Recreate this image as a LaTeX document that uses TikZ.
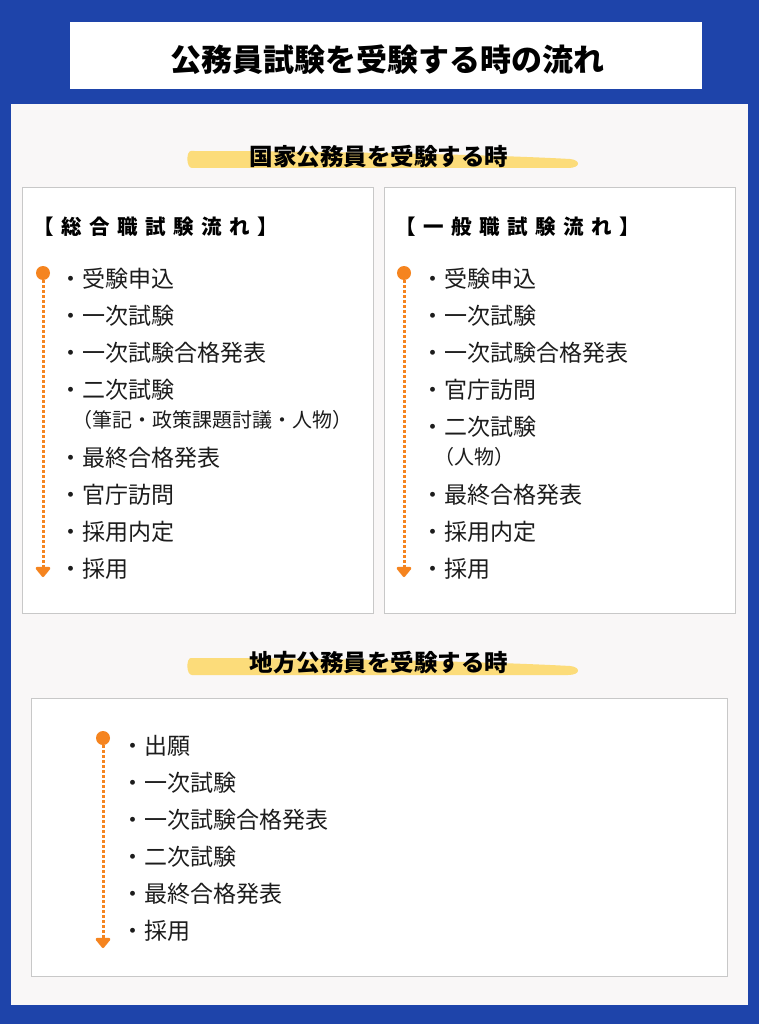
\documentclass[tikz,border=0pt]{standalone}
\usepackage{fontspec}
\setmainfont{Noto Sans CJK JP}
\usetikzlibrary{positioning,arrows.meta}

\definecolor{bgblue}{RGB}{30,68,170}
\definecolor{panelgray}{RGB}{249,247,247}
\definecolor{boxline}{RGB}{200,200,200}
\definecolor{flowOrange}{RGB}{245,132,31}
\definecolor{brushYellow}{RGB}{252,220,122}
\definecolor{itemtext}{RGB}{28,28,28}

\begin{document}
\begin{tikzpicture}[x=1pt,y=-1pt,node distance=15pt,
  title node/.style={font=\fontsize{31}{36}\selectfont\bfseries},
  heading node/.style={font=\fontsize{23.5}{28}\selectfont\bfseries},
  head node/.style={anchor=west,inner sep=0pt,text height=17.5pt,text depth=1.5pt,
    font=\fontsize{20.5}{24}\selectfont\bfseries\addfontfeature{LetterSpace=37}},
  item node/.style={text width=300pt,align=left,inner sep=0pt,text height=19.5pt,text depth=2pt,
    font=\fontsize{23}{27}\selectfont,text=itemtext},
  sub node/.style={item node,text height=17.5pt,text depth=1.5pt,
    font=\fontsize{20}{24}\selectfont,execute at begin node=\hspace*{13pt}},
  flow box/.style={draw=boxline,fill=white,line width=1pt},
  start dot/.style={circle,fill=flowOrange,minimum size=14pt,inner sep=0pt},
  flow line/.style={draw=flowOrange,line width=3pt,dash pattern=on 3pt off 2pt,
    -{Triangle[width=17pt,length=11pt,round]}},
  brush/.style={fill=brushYellow}]
  \useasboundingbox (0,0) rectangle (759,1024);
  \fill[bgblue] (0,0) rectangle (759,1024);
  \fill[white] (70,22) rectangle (702,89);
  \fill[panelgray] (11,104) rectangle (748,1005);
  \node[title node] (title) at (387,60) {公務員試験を受験する時の流れ};

  % 国家公務員
  \fill[brush] (191,151) .. controls (300,151) and (480,154) .. (570,159)
    .. controls (581,160) and (581,168) .. (568,168) -- (192,168)
    .. controls (186,168) and (186,151) .. (191,151) -- cycle;
  \node[heading node] (kokka) at (379,157) {国家公務員を受験する時};
  \draw[flow box] (22,188) rectangle (373,613);
  \draw[flow box] (384,188) rectangle (735,613);

  \node[head node] (shead) at (33,227) {【総合職試験流れ】};
  \node[item node,anchor=west] (s1) at (59,279) {・受験申込};
  \node[item node,below=of s1] (s2) {・一次試験};
  \node[item node,below=of s2] (s3) {・一次試験合格発表};
  \node[item node,below=of s3] (s4) {・二次試験};
  \node[sub node,below=9pt of s4] (s4x) {（筆記・政策課題討議・人物）};
  \node[item node,below=18pt of s4x] (s5) {・最終合格発表};
  \node[item node,below=of s5] (s6) {・官庁訪問};
  \node[item node,below=of s6] (s7) {・採用内定};
  \node[item node,below=of s7] (s8) {・採用};
  \node[start dot] (sdot) at (43,273) {};
  \coordinate (send) at (43,577);
  \draw[flow line] (sdot) -- (send);

  \node[head node] (phead) at (395,227) {【一般職試験流れ】};
  \node[item node,anchor=west] (p1) at (421,279) {・受験申込};
  \node[item node,below=of p1] (p2) {・一次試験};
  \node[item node,below=of p2] (p3) {・一次試験合格発表};
  \node[item node,below=of p3] (p4) {・官庁訪問};
  \node[item node,below=of p4] (p5) {・二次試験};
  \node[sub node,below=9pt of p5] (p5x) {（人物）};
  \node[item node,below=18pt of p5x] (p6) {・最終合格発表};
  \node[item node,below=of p6] (p7) {・採用内定};
  \node[item node,below=of p7] (p8) {・採用};
  \node[start dot] (pdot) at (404,273) {};
  \coordinate (pend) at (404,577);
  \draw[flow line] (pdot) -- (pend);

  % 地方公務員
  \fill[brush,yshift=-507pt] (191,151) .. controls (300,151) and (480,154) .. (570,159)
    .. controls (581,160) and (581,168) .. (568,168) -- (192,168)
    .. controls (186,168) and (186,151) .. (191,151) -- cycle;
  \node[heading node] (chiho) at (379,663) {地方公務員を受験する時};
  \draw[flow box] (31,698) rectangle (727,976);

  \node[item node,anchor=west] (c1) at (121,746) {・出願};
  \node[item node,below=of c1] (c2) {・一次試験};
  \node[item node,below=of c2] (c3) {・一次試験合格発表};
  \node[item node,below=of c3] (c4) {・二次試験};
  \node[item node,below=of c4] (c5) {・最終合格発表};
  \node[item node,below=of c5] (c6) {・採用};
  \node[start dot] (cdot) at (103,738) {};
  \coordinate (cend) at (103,948);
  \draw[flow line] (cdot) -- (cend);
\end{tikzpicture}
\end{document}
